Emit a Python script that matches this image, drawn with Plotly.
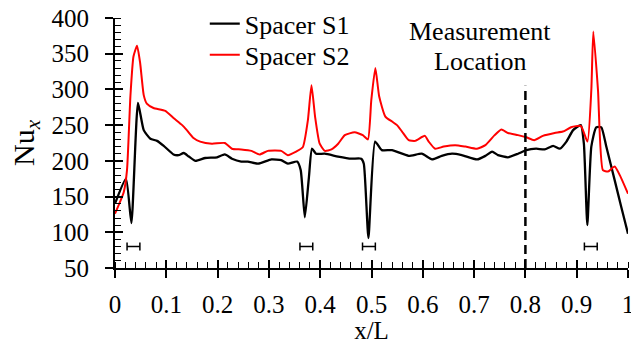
import plotly.graph_objects as go

# Spacer S1 (black)
s1_x = [0.0, 0.0214, 0.032, 0.0448, 0.056, 0.069, 0.082, 0.095, 0.114, 0.124, 0.134, 0.144, 0.157,
        0.176, 0.199, 0.214, 0.228, 0.246, 0.259, 0.279, 0.305, 0.324, 0.337, 0.355, 0.362, 0.370,
        0.378, 0.384, 0.392, 0.409, 0.435, 0.461, 0.480, 0.485, 0.494, 0.507, 0.520, 0.540, 0.5725,
        0.598, 0.618, 0.637, 0.657, 0.676, 0.7057, 0.722, 0.735, 0.7466, 0.766, 0.7856, 0.8018,
        0.821, 0.8376, 0.854, 0.867, 0.880, 0.893, 0.908, 0.914, 0.9207, 0.9285, 0.938, 0.948,
        0.9577, 0.974, 0.987, 1.0]
s1_y = [140, 175, 113, 281, 243, 231, 228, 221, 209, 208, 211, 206, 200,
        204, 205, 209, 203, 199, 199, 196, 202, 201, 196, 199, 187, 121,
        177, 217, 210, 210, 206, 203, 203, 196, 92, 227, 215, 215, 207,
        210, 202, 207, 210, 208, 202, 207, 213, 208, 205, 210, 215,
        217, 216, 221, 217, 227, 243, 250, 224, 110, 220, 247, 247,
        220, 173, 135, 98]

# Spacer S2 (red)
s2_x = [0.0, 0.017, 0.0234, 0.030, 0.036, 0.043, 0.049, 0.056, 0.062, 0.075, 0.098, 0.114, 0.131,
        0.140, 0.153, 0.166, 0.189, 0.214, 0.228, 0.246, 0.266, 0.282, 0.298, 0.324, 0.337, 0.353,
        0.366, 0.376, 0.383, 0.390, 0.399, 0.409, 0.422, 0.435, 0.448, 0.467, 0.483, 0.493, 0.4996,
        0.5075, 0.515, 0.527, 0.540, 0.5497, 0.5595, 0.5725, 0.585, 0.604, 0.6115, 0.624, 0.6407,
        0.663, 0.683, 0.7057, 0.722, 0.740, 0.753, 0.766, 0.7856, 0.8018, 0.817, 0.834, 0.857,
        0.873, 0.889, 0.908, 0.921, 0.9285, 0.9324, 0.9415, 0.951, 0.961, 0.974, 0.984, 1.0]
s2_y = [126, 156, 187, 290, 346, 361, 337, 292, 280, 274, 270, 260, 250,
        243, 232, 227, 224, 225, 217, 216, 214, 209, 214, 214, 208, 213,
        219, 257, 306, 262, 224, 214, 216, 224, 236, 240, 236, 230, 285,
        330, 290, 262, 255, 250, 241, 229, 228, 235, 227, 217, 220,
        222, 220, 217, 222, 236, 244, 239, 236, 233, 229, 235, 239,
        241, 247, 249, 227, 299, 381, 299, 187, 185, 192, 180, 154]

# Spacer positions (horizontal bars)
bar_x = [0.036, 0.373, 0.495, 0.9275]
bar_y = [80, 80, 80, 80]
bar_half = [0.0125, 0.0125, 0.0125, 0.0125]

x_ticks = [0, 0.1, 0.2, 0.3, 0.4, 0.5, 0.6, 0.7, 0.8, 0.9, 1]
x_ticktext = ["0", "0.1", "0.2", "0.3", "0.4", "0.5", "0.6", "0.7", "0.8", "0.9", "1"]
y_ticks = [50, 100, 150, 200, 250, 300, 350, 400]

measure_x = 0.8
measure_y = [50, 305]
label_lines = ["Measurement", "Location"]
label_x = 0.7115
label_y = [381, 339]

FONT = "Liberation Serif"

fig = go.Figure()
fig.add_trace(go.Scatter(x=s1_x, y=s1_y, mode="lines", name="Spacer S1", legend="legend",
                         line=dict(color="black", width=2.3, shape="spline", smoothing=0.5)))
fig.add_trace(go.Scatter(x=s2_x, y=s2_y, mode="lines", name="Spacer S2", legend="legend2",
                         line=dict(color="#ff0000", width=2, shape="spline", smoothing=0.5)))
fig.add_trace(go.Scatter(x=bar_x, y=bar_y, mode="markers", showlegend=False,
                         marker=dict(size=1, color="rgba(0,0,0,0)"),
                         error_x=dict(type="data", array=bar_half, color="black",
                                      thickness=1.5, width=4)))
fig.add_trace(go.Scatter(x=[measure_x, measure_x], y=measure_y, mode="lines", showlegend=False,
                         line=dict(color="black", width=2.5, dash="9px,5px")))
# invisible trace for secondary axes
fig.add_trace(go.Scatter(x=[0], y=[50], xaxis="x2", yaxis="y2", mode="markers",
                         marker=dict(size=1, color="rgba(0,0,0,0)"), showlegend=False,
                         hoverinfo="skip"))

for txt, yy in zip(label_lines, label_y):
    fig.add_annotation(x=label_x, y=yy, text=txt, showarrow=False,
                       font=dict(family=FONT, size=26, color="black"),
                       xanchor="center", yanchor="middle")

axis_common = dict(showgrid=False, zeroline=False, linecolor="black", linewidth=2,
                   tickcolor="black", tickwidth=1.5, automargin=False)

leg_common = dict(x=0.175, xanchor="left", yanchor="middle", bgcolor="rgba(0,0,0,0)",
                  font=dict(family=FONT, size=26, color="black"))

fig.update_layout(
    width=631, height=344,
    margin=dict(l=115, r=3, t=18, b=76, autoexpand=False),
    paper_bgcolor="white", plot_bgcolor="white",
    font=dict(family=FONT, size=25, color="black"),
    showlegend=True,
    legend=dict(y=0.977, **leg_common),
    legend2=dict(y=0.853, **leg_common),
    xaxis=dict(range=[0, 1], tickvals=x_ticks, ticktext=x_ticktext, ticks="outside", ticklen=8,
               showline=True, ticklabelstandoff=5, ticklabeloverflow="allow",
               tickfont=dict(family=FONT, size=25),
               minor=dict(dtick=0.02, ticks="inside", ticklen=6, tickcolor="black", tickwidth=1),
               title=dict(text="x/L", font=dict(family=FONT, size=25), standoff=10), **axis_common),
    yaxis=dict(range=[50, 400], tickvals=y_ticks, ticks="outside", ticklen=8, showline=True,
               ticklabelstandoff=11, ticklabeloverflow="allow", tickfont=dict(family=FONT, size=25),
               minor=dict(dtick=10, ticks="inside", ticklen=6, tickcolor="black", tickwidth=1),
               title=dict(text="Nu<sub><i>x</i></sub>", font=dict(family=FONT, size=30), standoff=8),
               **axis_common),
    xaxis2=dict(range=[0, 1], overlaying="x", tickvals=x_ticks, ticks="inside", ticklen=8,
                showticklabels=False, showline=False, showgrid=False, zeroline=False,
                tickcolor="black", tickwidth=1.5, automargin=False),
    yaxis2=dict(range=[50, 400], overlaying="y", tickvals=y_ticks, ticks="inside", ticklen=8,
                showticklabels=False, showline=False, showgrid=False, zeroline=False,
                tickcolor="black", tickwidth=1.5, automargin=False),
)

fig.write_html("out.html", config={"displayModeBar": False},
               post_script="document.body.style.margin='0px';document.body.style.padding='0px';")
